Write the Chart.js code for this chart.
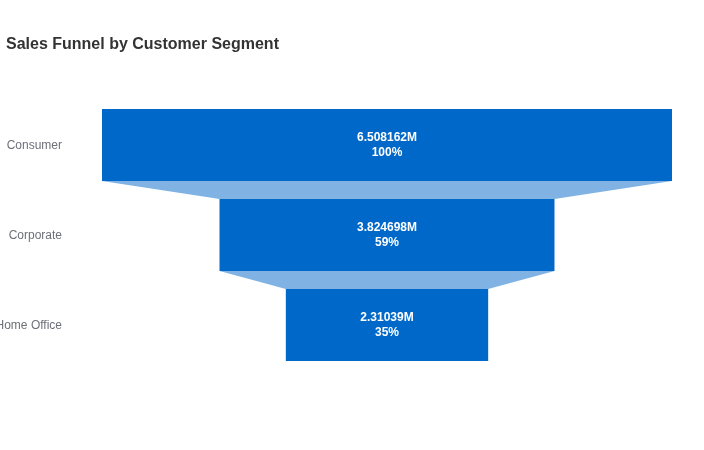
<!DOCTYPE html>
<html><head><meta charset="utf-8">
<script src="https://cdn.jsdelivr.net/npm/chart.js@4"></script>
<style>html,body{margin:0;padding:0;background:#fff}#wrap{width:704px;height:450px}</style>
</head><body><div id="wrap"><canvas id="c" width="704" height="450"></canvas></div>
<script>
const titleText = 'Sales Funnel by Customer Segment';
const categories = ['Consumer', 'Corporate', 'Home Office'];
const salesValues = [6508162, 3824698, 2310390];
const valueLabels = ['6.508162M', '3.824698M', '2.31039M'];

const maxVal = Math.max(...salesValues);
const FONT = '"Liberation Sans", Arial, sans-serif';
const barColor = '#0068c9';
const connColor = '#80b3e4';

const funnelPlugin = {
  id: 'funnel',
  beforeDatasetsDraw(chart) {
    const ctx = chart.ctx;
    const meta = chart.getDatasetMeta(0);
    const xs = chart.scales.x;
    ctx.save();
    ctx.fillStyle = connColor;
    for (let i = 0; i < meta.data.length - 1; i++) {
      const a = meta.data[i], b = meta.data[i + 1];
      const aBot = a.y + a.height / 2, bTop = b.y - b.height / 2;
      const av = salesValues[i] / 2, bv = salesValues[i + 1] / 2;
      ctx.beginPath();
      ctx.moveTo(xs.getPixelForValue(-av), aBot);
      ctx.lineTo(xs.getPixelForValue(av), aBot);
      ctx.lineTo(xs.getPixelForValue(bv), bTop);
      ctx.lineTo(xs.getPixelForValue(-bv), bTop);
      ctx.closePath();
      ctx.fill();
    }
    ctx.restore();
  },
  afterDatasetsDraw(chart) {
    const ctx = chart.ctx;
    const meta = chart.getDatasetMeta(0);
    const cx = chart.scales.x.getPixelForValue(0);
    ctx.save();
    ctx.fillStyle = '#ffffff';
    ctx.font = 'bold 12px ' + FONT;
    ctx.textAlign = 'center';
    ctx.textBaseline = 'middle';
    meta.data.forEach((el, i) => {
      const pct = Math.round(salesValues[i] / maxVal * 100) + '%';
      ctx.fillText(valueLabels[i], cx, el.y - 7);
      ctx.fillText(pct, cx, el.y + 8);
    });
    ctx.fillStyle = '#333333';
    ctx.font = 'bold 16px ' + FONT;
    ctx.textAlign = 'left';
    ctx.fillText(titleText, 6, 45);
    ctx.restore();
  }
};

new Chart(document.getElementById('c'), {
  type: 'bar',
  data: {
    labels: categories,
    datasets: [{
      data: salesValues.map(v => [-v / 2, v / 2]),
      backgroundColor: barColor,
      borderWidth: 0,
      borderSkipped: false,
      categoryPercentage: 1,
      barPercentage: 0.8
    }]
  },
  options: {
    indexAxis: 'y',
    responsive: false,
    animation: false,
    layout: { padding: { top: 100, bottom: 80, left: 0, right: 32 } },
    plugins: { legend: { display: false }, tooltip: { enabled: false }, title: { display: false } },
    scales: {
      x: { display: false, min: -maxVal / 2, max: maxVal / 2 },
      y: {
        grid: { display: false, drawTicks: false },
        border: { display: false },
        ticks: { color: '#6e7079', font: { size: 12, family: FONT }, padding: 40, labelOffset: 1 },
        afterFit(s) { s.width = 102; }
      }
    }
  },
  plugins: [funnelPlugin]
});
</script>
</body></html>
